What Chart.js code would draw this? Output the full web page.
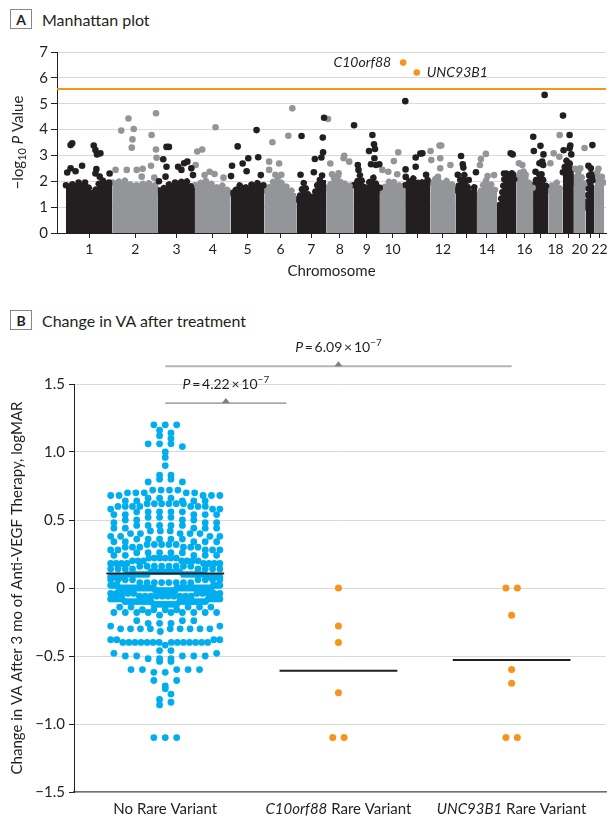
<!DOCTYPE html>
<html>
<head>
<meta charset="utf-8">
<script src="https://cdn.jsdelivr.net/npm/chart.js@4.4.1/dist/chart.umd.min.js"></script>
<style>
body { margin: 0; background: #fff; font-family: Lato, sans-serif; color: #231f20; }
#wrap { position: relative; width: 610px; height: 819px; overflow: hidden; }
.hdr { position: absolute; left: 10px; display: flex; align-items: center; font-size: 16px; }
.box { width: 20px; height: 18px; border: 1px solid #888; display: flex; align-items: center; justify-content: center; font-weight: bold; font-size: 14px; margin-right: 10px; }
canvas { position: absolute; left: 0; }
</style>
</head>
<body>
<div id="wrap">
  <div class="hdr" style="top:9px"><div class="box">A</div>Manhattan plot</div>
  <canvas id="chartA" width="610" height="250" style="top:40px"></canvas>
  <div class="hdr" style="top:310px"><div class="box">B</div>Change in VA after treatment</div>
  <canvas id="chartB" width="610" height="484" style="top:335px"></canvas>
</div>
<script>
// ---------- Panel A data ----------
const chromLengths = [249.25, 243.2, 198.0, 191.15, 180.9, 171.1, 159.1, 146.4, 141.2, 135.5, 135.0,
  133.85, 115.2, 107.35, 102.5, 90.35, 81.2, 78.1, 59.1, 63.0, 48.1, 51.3]; // Mb
const chromLabels = ['1', '2', '3', '4', '5', '6', '7', '8', '9', '10', '', '12', '', '14', '', '16', '', '18', '', '20', '', '22'];

// top of the dense block of SNPs, six stretches per chromosome (-log10 P)
const massTops = [
  [1.85, 1.95, 1.95, 1.5, 2.05, 1.95],
  [1.95, 2.05, 1.85, 1.85, 1.95, 1.85],
  [1.65, 1.85, 1.95, 1.95, 2.05, 1.75],
  [1.85, 2.05, 1.95, 1.75, 1.85, 1.65],
  [1.55, 1.85, 1.75, 1.85, 1.95, 1.85],
  [1.65, 1.95, 2.15, 1.85, 1.75, 1.55],
  [1.3, 1.95, 1.4, 1.4, 2.05, 2.05],
  [1.75, 2.05, 2.25, 1.85, 1.95, 1.75],
  [1.85, 2.25, 1.65, 1.95, 2.15, 1.75],
  [1.65, 1.85, 2.05, 1.95, 1.85, 1.75],
  [1.85, 2.15, 2.05, 1.85, 2.05, 2.05],
  [1.95, 2.15, 1.85, 2.05, 1.95, 1.85],
  [1.65, 2.15, 2.25, 1.75, 1.55, 1.85],
  [1.45, 1.75, 2.05, 1.95, 1.85, 1.65],
  [0.9, 1.45, 2.25, 2.35, 2.35, 2.05],
  [2.15, 2.35, 2.45, 2.05, 1.95, 1.75],
  [1.85, 2.15, 2.25, 2.15, 1.95, 1.75],
  [1.65, 1.85, 1.95, 1.95, 1.75, 1.65],
  [2.35, 2.75, 2.85, 2.75, 2.55, 2.35],
  [1.95, 2.35, 2.35, 2.25, 2.05, 1.85],
  [1.0, 1.45, 2.35, 2.35, 2.05, 1.85],
  [2.15, 2.35, 2.25, 2.05, 2.05, 1.95]
];

// single SNPs above the block: [chromosome, position in Mb, -log10 P]
const hits = [
  [1,25,3.40],[1,33.5,3.47],[1,148.8,3.38],[1,157.8,3.21],[1,166.3,3.04],[1,184.4,3.08],[1,86.6,2.60],[1,6.9,2.34],
  [1,25,2.50],[1,51.5,2.39],[1,163,2.47],[1,158,2.30],[1,180.7,2.18],[1,233.8,2.30],
  [2,46.7,3.96],[2,85.5,4.43],[2,113.7,4.02],[2,106.8,3.62],[2,103,3.30],[2,232.7,4.63],[2,209.3,3.79],[2,232.7,3.23],
  [2,235.9,2.91],[2,206.1,2.60],[2,76.5,2.44],[2,129.6,2.44],[2,161.5,2.48],[2,156.2,2.18],[2,223.6,2.14],[2,16.4,2.44],
  [3,45.8,3.33],[3,58.6,3.33],[3,28.3,2.85],[3,45.8,2.56],[3,40.6,2.18],[3,5.4,2.00],[3,139.9,2.70],[3,157.4,2.76],
  [3,125.5,2.44],[3,178.7,2.50],[3,187.7,2.24],[3,108,2.56],
  [4,12.5,3.15],[4,39,3.23],[4,4,2.63],[4,78.4,2.37],[4,105,2.28],[4,110.3,4.09],[4,152.8,2.14],[4,51.8,2.24],
  [5,37.6,3.35],[5,7.4,2.60],[5,2,2.20],[5,64.2,2.69],[5,94.5,2.89],[5,138.6,3.98],[5,147.6,2.93],[5,85.4,2.39],[5,161.4,2.24],
  [6,24.9,2.76],[6,42.7,3.51],[6,78.3,2.69],[6,127.7,3.76],[6,149,4.82],[6,24.9,2.44],[6,58.6,2.25],[6,90.5,2.25],
  [7,27.3,3.75],[7,98.5,2.86],[7,133.6,2.92],[7,142.6,3.12],[7,141,3.69],[7,147.9,4.46],[7,22,2.25],[7,93.2,2.35],[7,137.3,2.22],
  [8,10.1,4.41],[8,22.3,2.69],[8,96.7,2.99],[8,123.3,2.76],[8,93.5,2.89],[8,31.3,2.27],[8,66.9,2.31],
  [9,3,4.17],[9,23.1,2.63],[9,26.8,2.44],[9,101.2,3.79],[9,109.7,3.43],[9,115,3.25],[9,83.1,3.17],[9,93.7,2.66],
  [9,120.3,2.63],[9,138,2.66],[9,111.9,2.89],
  [10,13.1,2.44],[10,45,2.37],[10,74.7,2.78],[10,98.1,3.12],[10,92.8,2.27],
  [11,0.5,5.10],[11,2,2.46],[11,56.1,2.92],[11,56.1,2.56],[11,81.1,3.07],[11,91.7,3.08],[11,3,2.17],[11,111.8,2.25],
  [12,1,3.17],[12,48.7,3.38],[12,57.7,3.38],[12,4.6,2.82],[12,52.4,2.89],[12,52.4,2.50],[12,107.1,2.63],[12,40.2,2.17],
  [13,30.1,2.98],[13,39.2,2.66],[13,42.4,2.53],[13,12.5,2.25],[13,109.8,2.35],[13,71.1,2.05],
  [14,47.8,3.06],[14,21.2,2.86],[14,15.9,2.63],[14,91.8,2.24],[14,56.8,2.20],
  [15,73.2,3.08],[15,83.8,3.04],[15,37.6,2.30],[15,85.4,2.26],
  [16,14.8,2.70],[16,32.9,2.63],[16,50.5,2.25],
  [17,1,3.72],[17,39.7,3.37],[17,4.2,3.17],[17,55.8,3.04],[17,48.9,2.76],[17,34.5,2.70],[17,54.2,2.63],[17,13.3,2.37],
  [17,45.2,2.27],[17,62,5.34],
  [18,29.3,3.08],[18,11.7,2.70],[18,61.2,3.79],[18,59.6,2.95],
  [19,1,4.54],[19,36.2,3.79],[19,40,3.38],[19,36.2,3.28],[19,45.3,3.04],[19,4.3,3.20],
  [20,57.1,3.29],[20,7.7,2.48],[20,34.3,2.50],
  [21,36.3,3.40],[21,15,2.60],[21,27.8,2.50],[21,33.2,2.17],
  [22,20.4,2.48],[22,38.5,2.17]
];

const geneNames = ['C10orf88', 'UNC93B1'];
const geneChrom = [10, 11];
const genePos = [124.7, 62];
const geneLogP = [6.59, 6.21];
const threshold = 5.57;

// ---------- Panel B data ----------
const noRareLevels = [1.2, 1.16, 1.14, 1.12, 1.1, 1.06, 1.04, 1.0, 0.96, 0.9, 0.83, 0.8, 0.78, 0.72, 0.70, 0.68, 0.66, 0.64, 0.62, 0.60,
  0.58, 0.56, 0.54, 0.52, 0.50, 0.48, 0.46, 0.44, 0.42, 0.40, 0.38, 0.36, 0.34, 0.32, 0.30, 0.28, 0.26, 0.24, 0.22, 0.20,
  0.18, 0.16, 0.14, 0.12, 0.10, 0.08, 0.06, 0.04, 0.02, 0.00, -0.02, -0.04, -0.06, -0.08, -0.10, -0.12,
  -0.14, -0.16, -0.18, -0.20, -0.24, -0.26, -0.28, -0.30, -0.32, -0.38, -0.40, -0.42, -0.46, -0.48, -0.50, -0.52, -0.54,
  -0.60, -0.62, -0.68, -0.72, -0.74, -0.78, -0.82, -0.84, -0.86, -1.10];
const noRareCounts = [3, 1, 1, 1, 1, 3, 1, 1, 1, 1, 2, 2, 2, 4, 5, 5, 3, 5, 6, 7,
  3, 5, 5, 3, 4, 3, 5, 5, 3, 5, 4, 5, 5, 5, 6, 5, 5, 5, 6, 7,
  8, 8, 8, 8, 12, 8, 8, 8, 8, 34, 10, 10, 10, 10, 20, 9,
  5, 4, 9, 1, 3, 3, 2, 9, 1, 4, 14, 1, 2, 2, 5, 3, 2,
  5, 2, 2, 1, 1, 1, 1, 1, 1, 3];
const c10orf88Values = [0, -0.28, -0.40, -0.77, -1.1, -1.1];
const unc93b1Values = [0, 0, -0.2, -0.6, -0.7, -1.1, -1.1];

const groupNames = ['No Rare Variant', 'C10orf88 Rare Variant', 'UNC93B1 Rare Variant'];
const groupItalic = ['', 'C10orf88', 'UNC93B1'];
const brackets = [
  { from: 1, to: 1.7, y: 1.36, p: '4.22', exp: '\u22127', color: '#8a8a8a', width: 1.2 },
  { from: 1, to: 3, y: 1.63, p: '6.09', exp: '\u22127', color: '#b5b5b5', width: 2 }
];

const BLACK = '#231f20', GRAY = '#939598', ORANGE = '#f7941d', BLUE = '#00aeef', GRID = '#d9d9d9';
Chart.defaults.font.family = 'Lato';
Chart.defaults.color = BLACK;

// ---------- helpers ----------
function drawRuns(ctx, runs, cx, cy) {
  let total = 0;
  runs.forEach(r => { ctx.font = r.font; total += ctx.measureText(r.text).width; });
  let x = cx - total / 2;
  runs.forEach(r => {
    ctx.font = r.font;
    ctx.fillText(r.text, x, cy + (r.dy || 0));
    x += ctx.measureText(r.text).width;
  });
}

const chromStart = [];
chromLengths.reduce((acc, len, i) => { chromStart[i] = acc; return acc + len; }, 0);
const chromCenters = chromLengths.map((len, i) => chromStart[i] + len / 2);
const X_MIN = -47.8, X_MAX = 2890.5;

// ---------- Panel A ----------
const datasetsA = [];
massTops.forEach((tops, i) => {
  const s = chromStart[i], len = chromLengths[i];
  const pts = [{ x: s, y: tops[0] }];
  tops.forEach((h, k) => pts.push({ x: s + (k + 0.5) * len / tops.length, y: h }));
  pts.push({ x: s + len, y: tops[tops.length - 1] });
  const col = i % 2 === 0 ? BLACK : GRAY;
  datasetsA.push({
    type: 'line', data: pts, fill: 'origin', backgroundColor: col, borderColor: col,
    borderWidth: 6.5, borderDash: [0.01, 6.5], borderCapStyle: 'round', pointRadius: 0, tension: 0, order: 3
  });
});
datasetsA.push({
  data: hits.filter(h => h[0] % 2 === 1).map(h => ({ x: chromStart[h[0] - 1] + h[1], y: h[2] })),
  pointRadius: 3.3, pointBorderWidth: 0, pointBackgroundColor: BLACK, order: 2
});
datasetsA.push({
  data: hits.filter(h => h[0] % 2 === 0).map(h => ({ x: chromStart[h[0] - 1] + h[1], y: h[2] })),
  pointRadius: 3.3, pointBorderWidth: 0, pointBackgroundColor: GRAY, order: 2
});
datasetsA.push({
  type: 'line', data: [{ x: X_MIN, y: threshold }, { x: X_MAX, y: threshold }],
  borderColor: ORANGE, borderWidth: 2, pointRadius: 0, order: 1
});
datasetsA.push({
  data: geneNames.map((g, i) => ({ x: chromStart[geneChrom[i] - 1] + genePos[i], y: geneLogP[i] })),
  pointRadius: 3.3, pointBorderWidth: 0, pointBackgroundColor: ORANGE, order: 0
});

const annotA = {
  id: 'annotA',
  afterDraw(chart) {
    const { ctx, chartArea, scales: { x, y } } = chart;
    ctx.save();
    ctx.fillStyle = BLACK;
    ctx.textBaseline = 'middle';
    // gene labels
    geneNames.forEach((g, i) => {
      const px = x.getPixelForValue(chromStart[geneChrom[i] - 1] + genePos[i]);
      const py = y.getPixelForValue(geneLogP[i]);
      ctx.font = 'italic 14px Lato';
      ctx.textAlign = i === 0 ? 'right' : 'left';
      ctx.fillText(g, i === 0 ? px - 12 : px + 10, py);
    });
    ctx.textAlign = 'left';
    // x title
    drawRuns(ctx, [{ text: 'Chromosome', font: '15px Lato' }], (chartArea.left + chartArea.right) / 2, chartArea.bottom + 38);
    // y title
    ctx.translate(18, (chartArea.top + chartArea.bottom) / 2);
    ctx.rotate(-Math.PI / 2);
    drawRuns(ctx, [
      { text: '\u2212log', font: '15px Lato' },
      { text: '10', font: '11px Lato', dy: 4 },
      { text: ' ', font: '15px Lato' },
      { text: 'P', font: 'italic 15px Lato' },
      { text: ' Value', font: '15px Lato' }
    ], 0, 0);
    ctx.restore();
  }
};

new Chart(document.getElementById('chartA'), {
  type: 'scatter',
  data: { datasets: datasetsA },
  options: {
    responsive: false, animation: false, events: [],
    layout: { padding: { top: 12, right: 0, bottom: 0, left: 0 } },
    plugins: { legend: { display: false }, tooltip: { enabled: false } },
    scales: {
      x: {
        type: 'linear', min: X_MIN, max: X_MAX,
        afterBuildTicks: s => { s.ticks = chromCenters.map(v => ({ value: v })); },
        afterFit: s => { s.height = 57; s.paddingLeft = 0; s.paddingRight = 0; },
        ticks: { autoSkip: false, maxRotation: 0, callback: (v, i) => chromLabels[i], font: { size: 14 }, color: BLACK, padding: 3 },
        grid: { drawOnChartArea: false, tickLength: 5, tickColor: BLACK },
        border: { color: BLACK, width: 1 }
      },
      y: {
        min: 0, max: 7,
        afterFit: s => { s.width = 57; s.paddingTop = 0; s.paddingBottom = 0; },
        ticks: { stepSize: 1, font: { size: 15 }, color: BLACK, padding: 3 },
        grid: { color: GRID, tickLength: 6, tickColor: BLACK },
        border: { color: BLACK, width: 1 }
      }
    }
  },
  plugins: [annotA]
});

// ---------- Panel B ----------
const noRareValues = [];
noRareLevels.forEach((v, i) => { for (let k = 0; k < noRareCounts[i]; k++) noRareValues.push(v); });
const mean = a => a.reduce((s, v) => s + v, 0) / a.length;
const median = a => { const s = a.slice().sort((p, q) => p - q); return s[Math.floor(s.length / 2)]; };

// dot-plot layout: values binned into rows, each row spread symmetrically around the group centre
const BIN = 0.05, GAP = 11.5, HALF = 55;
function dotRows(values, center, pxPerX) {
  const med = median(values);
  const bins = new Map();
  values.forEach(v => {
    const k = Math.round(v / BIN);
    if (!bins.has(k)) bins.set(k, []);
    bins.get(k).push(v);
  });
  const pts = [];
  bins.forEach(vals => {
    vals.sort((a, b) => Math.abs(b - med) - Math.abs(a - med));
    const n = vals.length;
    const s = n > 1 ? Math.min(GAP, 2 * HALF / (n - 1)) : 0;
    const slots = [];
    for (let k = 0; k < n; k++) slots.push((k - (n - 1) / 2) * s);
    slots.sort((a, b) => Math.abs(a) - Math.abs(b) || a - b);
    vals.forEach((v, i) => pts.push({ x: center + slots[i] / pxPerX, y: v }));
  });
  return pts;
}

const groupValues = [noRareValues, c10orf88Values, unc93b1Values];
const meanHalf = 0.34;
const datasetsB = [
  { data: [], pointRadius: 3.4, pointBorderWidth: 0, pointBackgroundColor: BLUE, order: 2 },
  { data: [], pointRadius: 3.5, pointBorderWidth: 0, pointBackgroundColor: ORANGE, order: 2 },
  { data: [], pointRadius: 3.5, pointBorderWidth: 0, pointBackgroundColor: ORANGE, order: 2 }
];
groupValues.forEach((vals, i) => {
  const m = mean(vals);
  datasetsB.push({
    type: 'line', data: [{ x: i + 1 - meanHalf, y: m }, { x: i + 1 + meanHalf, y: m }],
    borderColor: BLACK, borderWidth: 2, pointRadius: 0, order: 1
  });
});

const annotB = {
  id: 'annotB',
  afterDraw(chart) {
    const { ctx, chartArea, scales: { x, y } } = chart;
    ctx.save();
    ctx.fillStyle = BLACK;
    ctx.textBaseline = 'alphabetic';
    ctx.textAlign = 'left';
    // category labels
    groupNames.forEach((name, i) => {
      const it = groupItalic[i];
      const runs = it ? [{ text: it, font: 'italic 15px Lato' }, { text: name.slice(it.length), font: '15px Lato' }]
                      : [{ text: name, font: '15px Lato' }];
      drawRuns(ctx, runs, x.getPixelForValue(i + 1), chartArea.bottom + 22);
    });
    // significance brackets
    brackets.forEach(b => {
      const x1 = x.getPixelForValue(b.from), x2 = x.getPixelForValue(b.to), py = y.getPixelForValue(b.y);
      const xm = (x1 + x2) / 2;
      ctx.strokeStyle = b.color;
      ctx.lineWidth = b.width;
      ctx.beginPath(); ctx.moveTo(x1, py); ctx.lineTo(x2, py); ctx.stroke();
      ctx.fillStyle = '#7f7f7f';
      ctx.beginPath(); ctx.moveTo(xm - 4, py); ctx.lineTo(xm + 4, py); ctx.lineTo(xm, py - 5); ctx.closePath(); ctx.fill();
      ctx.fillStyle = BLACK;
      drawRuns(ctx, [
        { text: 'P', font: 'italic 14px Lato' },
        { text: '\u2009=\u2009' + b.p + '\u2009\u00d7\u200910', font: '14px Lato' },
        { text: b.exp, font: '10px Lato', dy: -6 }
      ], xm, py - 14);
    });
    // y title
    ctx.translate(17, (chartArea.top + chartArea.bottom) / 2);
    ctx.rotate(-Math.PI / 2);
    ctx.textBaseline = 'middle';
    drawRuns(ctx, [{ text: 'Change in VA After 3 mo of Anti-VEGF Therapy, logMAR', font: '15px Lato' }], 0, 0);
    ctx.restore();
  }
};

const chartB = new Chart(document.getElementById('chartB'), {
  type: 'scatter',
  data: { datasets: datasetsB },
  options: {
    responsive: false, animation: false, events: [],
    layout: { padding: { top: 49, right: 0, bottom: 0, left: 0 } },
    plugins: { legend: { display: false }, tooltip: { enabled: false } },
    scales: {
      x: {
        type: 'linear', min: 0.473, max: 3.545,
        afterFit: s => { s.height = 27; s.paddingLeft = 0; s.paddingRight = 0; },
        ticks: { display: false }, grid: { display: false },
        border: { color: '#6d6e71', width: 1.5 }
      },
      y: {
        min: -1.5, max: 1.5,
        afterFit: s => { s.width = 74; s.paddingTop = 0; s.paddingBottom = 0; },
        ticks: {
          stepSize: 0.5, font: { size: 15 }, color: BLACK, padding: 4,
          callback: v => v === 0 ? '0' : (v < 0 ? '\u2212' : '') + Math.abs(v).toFixed(1)
        },
        grid: { color: GRID, tickLength: 5, tickColor: BLACK },
        border: { color: BLACK, width: 1 }
      }
    }
  },
  plugins: [annotB]
});

const pxPerX = chartB.scales.x.getPixelForValue(1) - chartB.scales.x.getPixelForValue(0);
groupValues.forEach((vals, i) => { chartB.data.datasets[i].data = dotRows(vals, i + 1, pxPerX); });
chartB.update('none');
</script>
</body>
</html>
